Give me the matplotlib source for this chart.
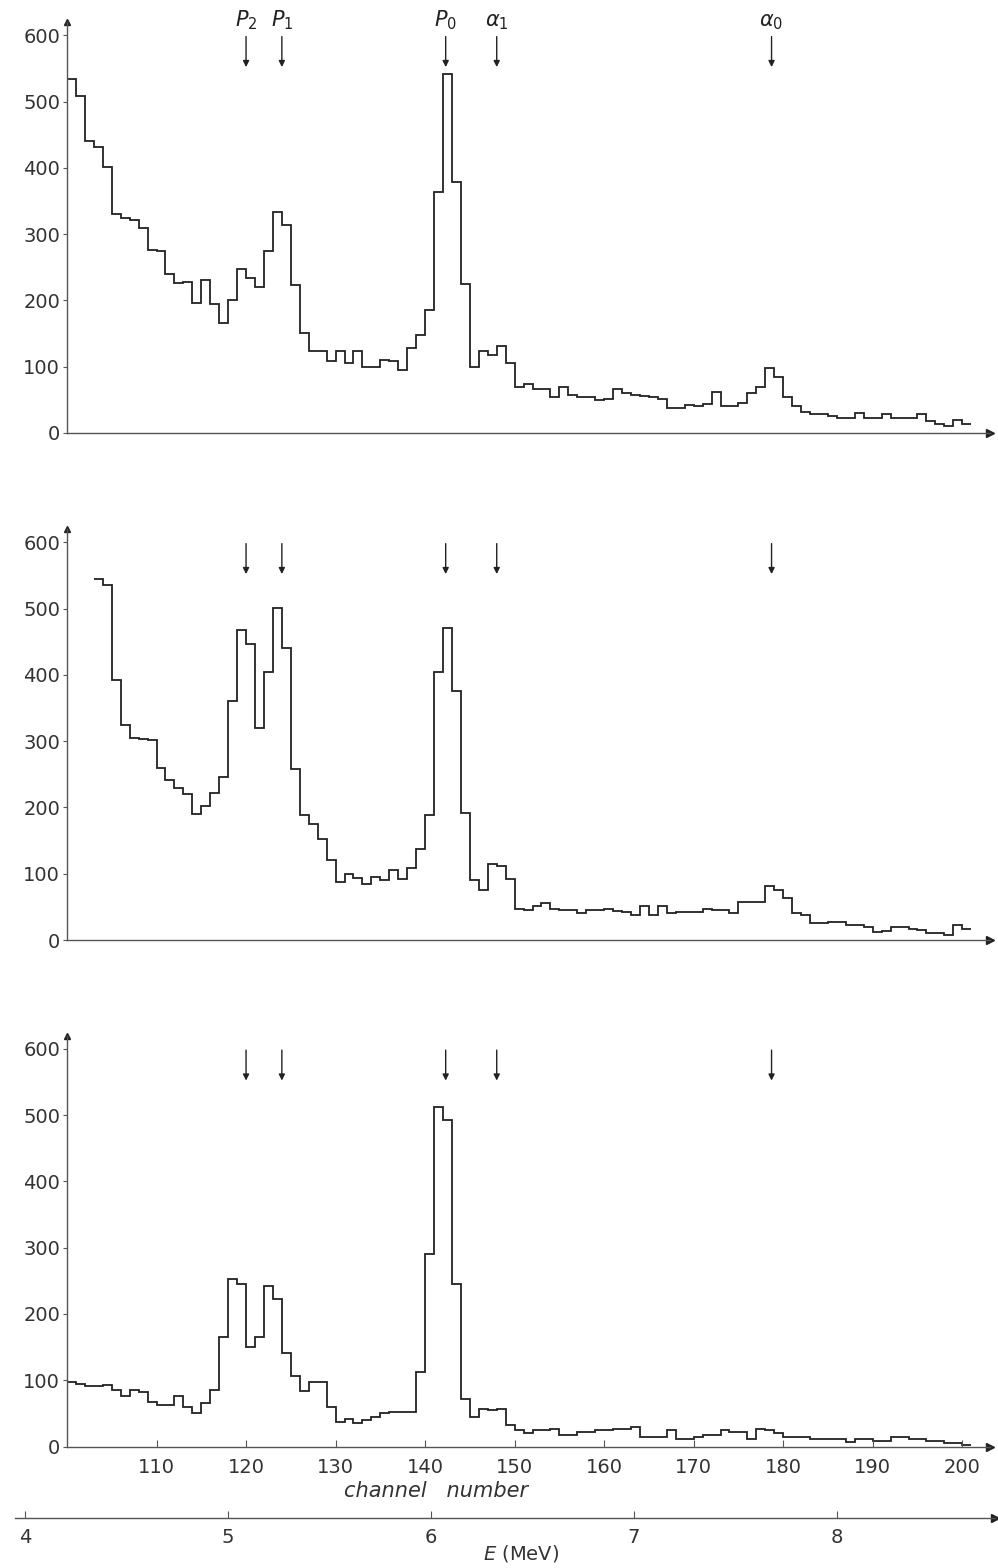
import numpy as np
import matplotlib.pyplot as plt

# counts per channel (channel 100 .. 200)
first_channel = 100
counts_top = [534, 508, 441, 432, 402, 330, 324, 321, 309, 276,
              274, 240, 226, 228, 196, 231, 195, 166, 201, 247,
              234, 220, 275, 333, 314, 224, 151, 124, 124, 108,
              124, 106, 124, 100, 100, 110, 108, 95, 128, 148,
              186, 364, 542, 378, 225, 100, 124, 118, 131, 105,
              70, 74, 67, 66, 54, 70, 57, 55, 55, 50,
              52, 67, 60, 57, 56, 55, 52, 37, 38, 42,
              40, 44, 62, 40, 41, 45, 60, 70, 98, 85,
              55, 40, 32, 29, 28, 25, 22, 22, 30, 22,
              22, 29, 22, 22, 22, 28, 18, 14, 11, 20,
              13]

mid_first_channel = 103
counts_mid = [545, 535, 392, 325, 305, 303, 302, 260, 242, 230,
              220, 190, 202, 221, 246, 360, 467, 446, 320, 405,
              501, 440, 258, 188, 175, 153, 120, 88, 100, 93,
              85, 95, 90, 105, 92, 108, 138, 188, 405, 470,
              375, 191, 91, 75, 115, 112, 92, 47, 45, 52,
              56, 47, 45, 45, 40, 45, 45, 47, 44, 42,
              37, 52, 37, 52, 40, 42, 42, 42, 47, 45,
              45, 40, 57, 57, 57, 82, 75, 64, 40, 37,
              25, 25, 27, 27, 22, 22, 20, 12, 14, 19,
              19, 17, 15, 10, 10, 7, 22, 17]

counts_bottom = [97, 95, 92, 91, 93, 85, 76, 85, 82, 67,
                 62, 62, 76, 60, 50, 65, 85, 165, 252, 245,
                 150, 165, 242, 222, 141, 106, 84, 97, 97, 59,
                 37, 42, 35, 40, 45, 50, 52, 52, 52, 112,
                 290, 512, 492, 245, 71, 45, 57, 55, 57, 32,
                 25, 20, 25, 25, 27, 17, 17, 22, 22, 25,
                 25, 27, 27, 30, 15, 15, 15, 25, 12, 12,
                 14, 17, 17, 25, 22, 22, 12, 27, 25, 20,
                 14, 14, 14, 12, 12, 12, 12, 7, 12, 12,
                 9, 9, 15, 15, 11, 11, 8, 8, 5, 5,
                 3]

peak_channels = [120.0, 124.0, 142.3, 148.0, 178.7]
peak_labels = ['$P_2$', '$P_1$', '$P_0$', r'$\alpha_1$', r'$\alpha_0$']

y_ticks = [0, 100, 200, 300, 400, 500, 600]
channel_ticks = [110, 120, 130, 140, 150, 160, 170, 180, 190, 200]
energy_ticks = [4, 5, 6, 7, 8]

W, H = 998, 1568
fig = plt.figure(figsize=(W / 100, H / 100), dpi=100)
fig.patch.set_facecolor('white')

ink = '#222222'
axis_grey = '#555555'


def make_panel(zero_px, counts, start, labels=False, xlabels=False):
    ax = fig.add_axes([67 / W, (H - zero_px) / H, 923 / W, 411 / H])
    ax.set_facecolor('none')
    edges = np.arange(start, start + len(counts) + 1)
    ax.stairs(counts, edges, baseline=None, color=ink, lw=1.3)
    ax.set_xlim(100, 203.1)
    ax.set_ylim(0, 620)
    for s in ['top', 'right']:
        ax.spines[s].set_visible(False)
    for s in ['left', 'bottom']:
        ax.spines[s].set_color(axis_grey)
        ax.spines[s].set_linewidth(1.0)
    ax.plot(1, 0, marker='>', color=ink, ms=6, transform=ax.transAxes, clip_on=False)
    ax.plot(0, 1, marker='^', color=ink, ms=5, transform=ax.transAxes, clip_on=False)
    ax.set_yticks(y_ticks)
    ax.tick_params(axis='y', direction='out', length=3, pad=2, labelsize=14,
                   colors=axis_grey, labelcolor='#333333')
    if xlabels:
        ax.set_xticks(channel_ticks)
        ax.tick_params(axis='x', direction='in', length=5, pad=8, labelsize=14,
                       colors=axis_grey, labelcolor='#333333')
        ax.set_xlabel('channel   number', fontsize=15, style='italic', color='#333333')
        ax.xaxis.set_label_coords(0.40, -0.085)
    else:
        ax.set_xticks([])

    # peak markers
    for ch, lab in zip(peak_channels, peak_labels):
        ax.annotate('', xy=(ch, 552), xytext=(ch, 598),
                    arrowprops=dict(arrowstyle='-|>', color=ink, lw=1,
                                    mutation_scale=9, shrinkA=0, shrinkB=0))
        if labels:
            ax.text(ch, 605, lab, ha='center', va='bottom', fontsize=15, color=ink)
    return ax


make_panel(433, counts_top, first_channel, labels=True)
make_panel(940, counts_mid, mid_first_channel)
make_panel(1446.5, counts_bottom, first_channel, xlabels=True)

# energy scale below the channel axis
ax_e = fig.add_axes([15 / W, (H - 1518) / H, 980 / W, 0.001])
ax_e.set_facecolor('none')
ax_e.set_xlim(3.951, 8.778)
ax_e.set_yticks([])
for s in ['top', 'right', 'left']:
    ax_e.spines[s].set_visible(False)
ax_e.spines['bottom'].set_color(axis_grey)
ax_e.spines['bottom'].set_linewidth(1.0)
ax_e.set_xticks(energy_ticks)
ax_e.tick_params(axis='x', direction='in', length=5, pad=7, labelsize=14,
                 colors=axis_grey, labelcolor='#333333')
ax_e.plot(1, 0, marker='>', color=ink, ms=6, transform=ax_e.transAxes, clip_on=False)
fig.text(521 / W, 1 - 1554 / H, '$E$ (MeV)', fontsize=14, color='#333333',
         ha='center', va='center')

fig.savefig('out.png', dpi=100)
